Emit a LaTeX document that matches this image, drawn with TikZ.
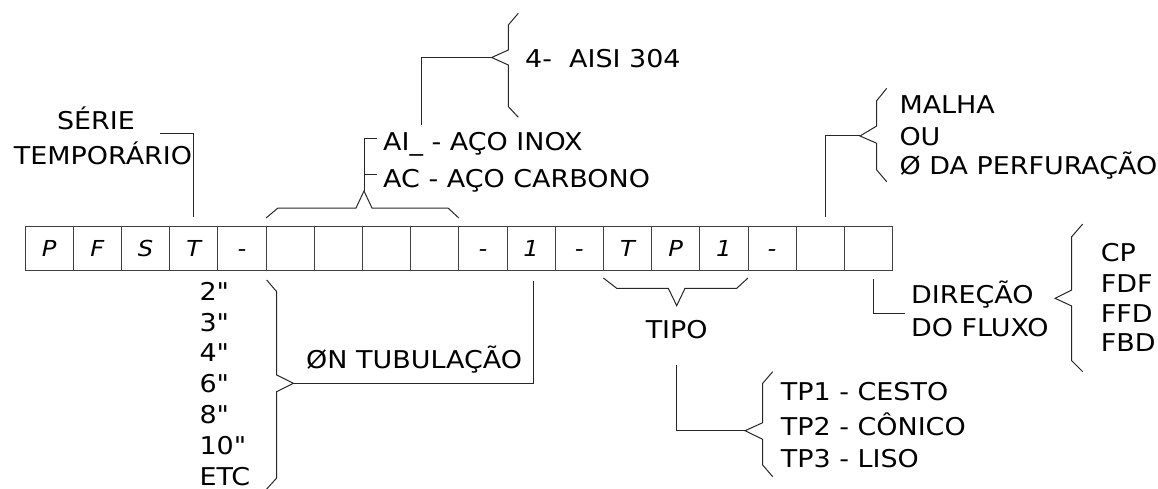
\documentclass[tikz,border=0pt]{standalone}
\usepackage{fontspec}
\setmainfont{DejaVu Sans}[FakeStretch=1.1]
\newfontfamily\qfont{DejaVu Sans}[FakeStretch=1.1]
\begin{document}
\begin{tikzpicture}[x=1pt,y=-1pt,
  ln/.style={draw=black!85,line width=1pt,line join=miter},
  cellbox/.style={draw=black!75,line width=1pt,minimum width=48.2pt,minimum height=44pt,inner sep=0pt,outer sep=0pt},
  celltxt/.style={inner sep=0pt,anchor=base,font=\fontsize{22}{24}\selectfont\itshape},
  lbl/.style={inner sep=0pt,anchor=base west,font=\fontsize{24.5}{30}\selectfont},
  clbl/.style={inner sep=0pt,anchor=base,font=\fontsize{24.5}{30}\selectfont}]
\useasboundingbox (0,0) rectangle (1158,489);
% cells
\foreach \t [count=\i from 0] in {P,F,S,T,-,{},{},{},{},-,1,-,T,P,1,-,{},{}}{
  \node[cellbox] (c\i) at ({25+48.2*\i+24.1},248) {};
  \node[celltxt] (t\i) at ([yshift=-8.5pt]c\i.center) {\t};
}
% SERIE TEMPORARIO
\node[clbl] (serie) at (96,130) {SÉRIE};
\node[clbl] (temp) at (103,165) {TEMPORÁRIO};
\coordinate (serieL) at (160,134);
\draw[ln] (serieL) -| ([yshift=9pt]c3.north);
% brace above cells 5-8
\coordinate (matTip) at (364,191);
\draw[ln] ([yshift=8pt]c5.north west) -- (278,208) -- (356,208) -- (matTip) -- (372,208) -- (448,208) -- ([yshift=8pt]c8.north east);
\node[lbl] (ai) at (383,151) {AI\_ - AÇO INOX};
\node[lbl] (ac) at (383,187) {AC - AÇO CARBONO};
\coordinate (aiT) at (364,139);
\coordinate (acT) at (364,175);
\draw[ln] (matTip) -- (aiT) -- (377,139);
\draw[ln] (acT) -- (377,175);
% AISI
\node[lbl] (aisi) at (525,68) {4-\ \ AISI 304};
\coordinate (aisiTip) at (491.7,57.5);
\coordinate (aiStem) at (421.7,125);
\draw[ln] (aiStem) |- (aisiTip);
\draw[ln] (518.3,13.3) -- (508.3,25) -- (508.3,50) -- (aisiTip) -- (508.3,65) -- (508.3,106.5) -- (518.3,117.3);
% N tubulacao
\coordinate (tubTip) at (293.3,383.3);
\coordinate (tubTop) at (533.5,281);
\draw[ln] (tubTop) |- (tubTip);
\draw[ln] (266.7,280) -- (276.7,291.7) -- (276.7,375) -- (tubTip) -- (276.7,391.7) -- (276.7,478) -- (266.7,489);
\node[lbl] (tub) at (306,368) {ØN TUBULAÇÃO};
\foreach \s [count=\k from 0] in {2",3",4",6",8",10",ETC}{
  \node[lbl,font=\fontsize{24.5}{30}\qfont] (d\k) at (199.3,{300.2+30.8*\k}) {\s};
}
% TIPO
\coordinate (tipoTip) at (676.7,305.7);
\draw[ln] ([yshift=-8pt]c12.south west) -- (616.7,288.3) -- (668.3,288.3) -- (tipoTip) -- (685,288.3) -- (736.7,288.3) -- ([yshift=-8pt]c14.south east);
\node[clbl] (tipo) at (676.7,338) {TIPO};
\coordinate (tpTip) at (745,430.7);
\draw[ln] (676,365) |- (tpTip);
\draw[ln] (772.7,371.7) -- (762.7,383.3) -- (762.7,422.7) -- (tpTip) -- (762.7,439.3) -- (762.7,465) -- (772.7,476.7);
\node[lbl] (tp1) at (780.7,400) {TP1 - CESTO};
\node[lbl] (tp2) at (780.7,435) {TP2 - CÔNICO};
\node[lbl] (tp3) at (780.7,467) {TP3 - LISO};
% MALHA
\coordinate (malTip) at (860,136);
\draw[ln] (825.7,216.7) |- (malTip);
\draw[ln] (886.7,88.3) -- (876.7,100.7) -- (876.7,126) -- (malTip) -- (876.7,143.3) -- (876.7,170) -- (886.7,181.7);
\node[lbl] (malha) at (899.3,114) {MALHA};
\node[lbl] (ou) at (899.3,146) {OU};
\node[lbl] (perf) at (899.3,175) {Ø DA PERFURAÇÃO};
% DIRECAO
\draw[ln] (873.3,279.3) |- (905,313.3);
\node[lbl] (dir) at (911,303) {DIREÇÃO};
\node[lbl] (flux) at (911,336) {DO FLUXO};
\coordinate (dirTip) at (1055,298.3);
\draw[ln] (1082.7,224) -- (1071.7,236.7) -- (1071.7,290) -- (dirTip) -- (1071.7,306) -- (1071.7,360.7) -- (1082.7,371.7);
\node[lbl] (cp) at (1100.7,261) {CP};
\node[lbl] (fdf) at (1100.7,292) {FDF};
\node[lbl] (ffd) at (1100.7,322) {FFD};
\node[lbl] (fbd) at (1100.7,351) {FBD};
\end{tikzpicture}
\end{document}
